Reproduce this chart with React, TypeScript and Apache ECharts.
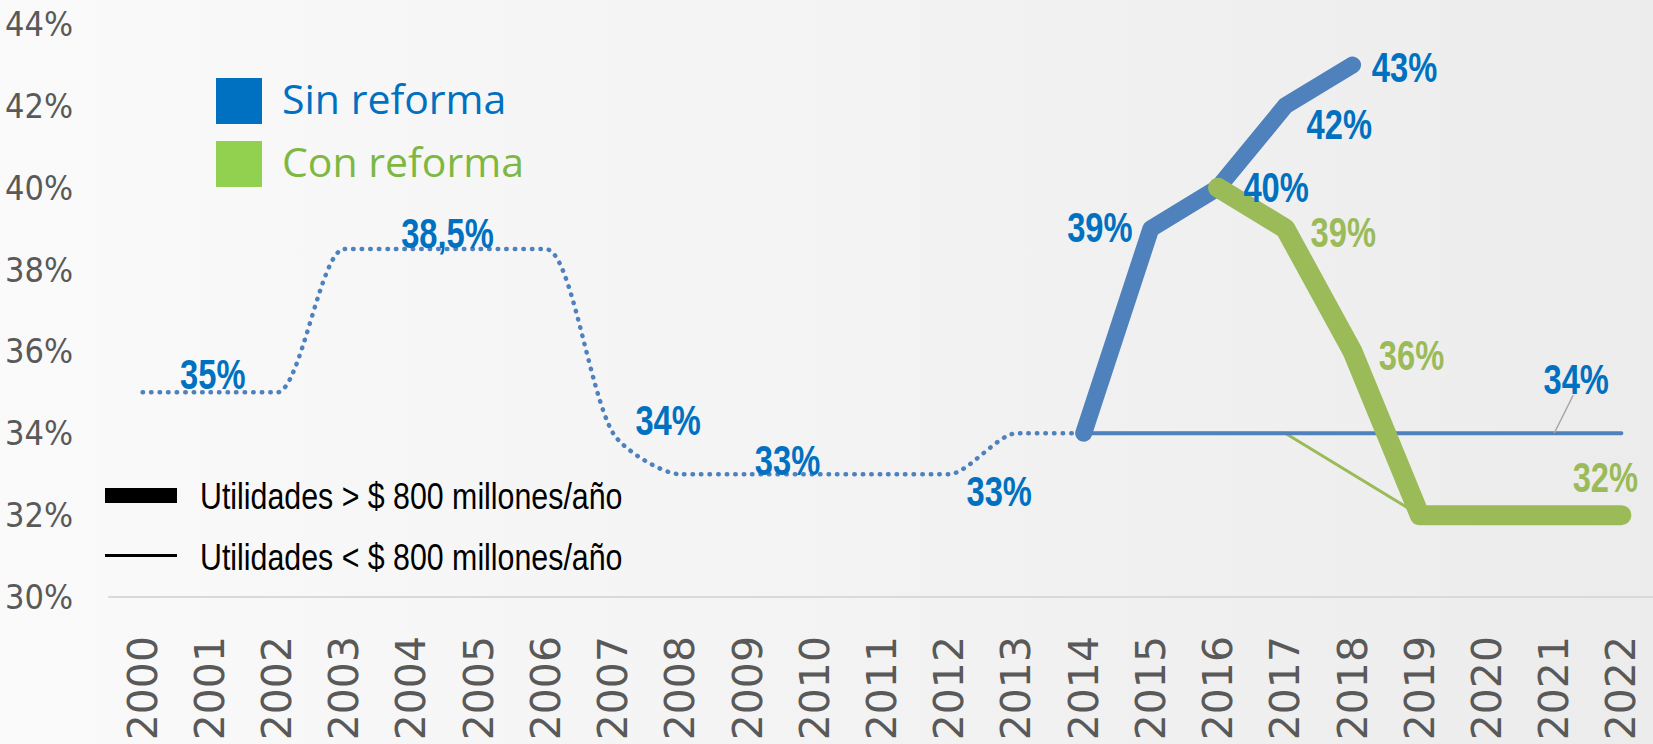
import React, { useEffect, useRef } from "react";
import * as echarts from "echarts";

const years = [
  "2000", "2001", "2002", "2003", "2004", "2005", "2006", "2007", "2008", "2009", "2010",
  "2011", "2012", "2013", "2014", "2015", "2016", "2017", "2018", "2019", "2020", "2021", "2022",
];

const yMin = 30;
const yMax = 44;
const yStep = 2;

// historical statutory rate (dotted)
const historico = [35, 35, 35, 38.5, 38.5, 38.5, 38.5, 34, 33, 33, 33, 33, 33, 34, 34,
  null, null, null, null, null, null, null, null];
// Utilidades > 800 millones
const sinReformaGrandes = [null, null, null, null, null, null, null, null, null, null, null,
  null, null, null, 34, 39, 40, 42, 43, null, null, null, null];
const conReformaGrandes = [null, null, null, null, null, null, null, null, null, null, null,
  null, null, null, null, null, 40, 39, 36, 32, 32, 32, 32];
// Utilidades < 800 millones
const sinReformaPequenas = [null, null, null, null, null, null, null, null, null, null, null,
  null, null, null, 34, 34, 34, 34, 34, 34, 34, 34, 34];
const conReformaPequenas = [null, null, null, null, null, null, null, null, null, null, null,
  null, null, null, 34, null, null, 34, null, 32, null, null, null];

// label placement (offset of label centre from its point), by year index
const historicoLabels: Record<number, number[]> = { 1: [3, -19], 4: [36, -16], 7: [55, -13], 9: [40, -14], 12: [50, 17] };
const sinGrandesLabels: Record<number, number[]> = { 15: [-51, -2], 16: [58, -1], 17: [54, 18], 18: [52, 2] };
const conGrandesLabels: Record<number, number[]> = { 17: [58, 3], 18: [59, 3], 22: [-16, -38] };
const sinPequenasLabels: Record<number, number[]> = { 21: [22, -54] };

const BLUE_LINE = "#4F81BD";
const BLUE_TEXT = "#0070C0";
const GREEN_LINE = "#9BBB59";
const GREEN_TEXT = "#9BBB59";

const fmt = (v: number) => String(v).replace(".", ",") + "%";

type LabelSpec = { idx: number; value: number; dx: number; dy: number; color: string; leader: boolean };

function collect(values: (number | null)[], labels: Record<number, number[]>, color: string, leader = false): LabelSpec[] {
  const out: LabelSpec[] = [];
  Object.keys(labels).forEach((k) => {
    const i = Number(k);
    const v = values[i];
    if (v === null || v === undefined) return;
    out.push({ idx: i, value: v, dx: labels[i][0], dy: labels[i][1], color, leader });
  });
  return out;
}

const labelSpecs: LabelSpec[] = [
  ...collect(historico, historicoLabels, BLUE_TEXT),
  ...collect(sinReformaPequenas, sinPequenasLabels, BLUE_TEXT, true),
  ...collect(sinReformaGrandes, sinGrandesLabels, BLUE_TEXT),
  ...collect(conReformaGrandes, conGrandesLabels, GREEN_TEXT),
];

export default function App() {
  const ref = useRef<HTMLDivElement>(null);
  useEffect(() => {
    const chart = echarts.init(ref.current!, null, { renderer: "svg" });
    const baseSeries = {
      type: "line",
      symbol: "none",
      showSymbol: false,
      emphasis: { disabled: true },
      silent: true,
      z: 2,
    };
    chart.setOption({
      animation: false,
      backgroundColor: {
        type: "linear", x: 0, y: 0, x2: 1, y2: 0,
        colorStops: [
          { offset: 0, color: "#fafafa" },
          { offset: 0.5, color: "#f3f3f3" },
          { offset: 1, color: "#ececec" },
        ],
      },
      grid: { left: 109, top: 24, width: 1546, height: 573, outerBoundsMode: "none", containLabel: false },
      xAxis: {
        type: "category",
        data: years,
        boundaryGap: true,
        axisLine: { show: true, lineStyle: { color: "#d9d9d9", width: 2 } },
        axisTick: { show: false },
        axisLabel: {
          rotate: 90,
          margin: 39,
          fontSize: 41,
          fontFamily: "'DejaVu Sans', sans-serif",
          color: "#595959",
          interval: 0,
        },
      },
      yAxis: {
        type: "value",
        min: yMin,
        max: yMax,
        interval: yStep,
        axisLine: { show: false },
        axisTick: { show: false },
        splitLine: { show: false },
        axisLabel: {
          formatter: "{value}%",
          margin: 36,
          fontSize: 34,
          fontFamily: "'DejaVu Sans Condensed', sans-serif",
          color: "#595959",
        },
      },
      series: [
        {
          ...baseSeries,
          name: "Histórico",
          data: historico,
          smooth: 0.25,
          lineStyle: { color: BLUE_LINE, width: 4.5, type: [0.5, 8], cap: "round" },
        },
        {
          ...baseSeries,
          name: "Con reforma < 800",
          data: conReformaPequenas,
          connectNulls: true,
          lineStyle: { color: GREEN_LINE, width: 3 },
        },
        {
          ...baseSeries,
          name: "Sin reforma < 800",
          data: sinReformaPequenas,
          lineStyle: { color: BLUE_LINE, width: 4, cap: "round" },
          z: 3,
        },
        {
          ...baseSeries,
          name: "Sin reforma > 800",
          data: sinReformaGrandes,
          lineStyle: { color: BLUE_LINE, width: 17, cap: "round", join: "round" },
          z: 4,
        },
        {
          ...baseSeries,
          name: "Con reforma > 800",
          data: conReformaGrandes,
          lineStyle: { color: GREEN_LINE, width: 20, cap: "round", join: "round" },
          z: 5,
        },
        {
          type: "custom",
          name: "Etiquetas",
          silent: true,
          z: 10,
          data: labelSpecs.map((s) => [s.idx, s.value]),
          renderItem: (params: any, api: any) => {
            const s = labelSpecs[params.dataIndex];
            const p = api.coord([api.value(0), api.value(1)]);
            const children: any[] = [];
            if (s.leader) {
              children.push({
                type: "line",
                shape: { x1: p[0], y1: p[1], x2: p[0] + 19, y2: p[1] + s.dy + 16 },
                style: { stroke: "#a6a6a6", lineWidth: 1.5 },
              });
            }
            children.push({
              type: "text",
              x: p[0] + s.dx,
              y: p[1] + s.dy,
              scaleX: 0.76,
              style: {
                text: fmt(s.value),
                fill: s.color,
                font: "bold 43px 'Liberation Sans', Arial, sans-serif",
                align: "center",
                verticalAlign: "middle",
              },
            });
            return { type: "group", children };
          },
        },
      ],
      graphic: [
        { type: "rect", left: 216, top: 78, shape: { width: 46, height: 46 }, style: { fill: "#0070C0" } },
        { type: "rect", left: 216, top: 141, shape: { width: 46, height: 46 }, style: { fill: "#92D050" } },
        {
          type: "text", left: 282, top: 77,
          style: { text: "Sin reforma", fill: "#0070C0", fontSize: 41, fontFamily: "'Open Sans', sans-serif" },
        },
        {
          type: "text", left: 282, top: 140,
          style: { text: "Con reforma", fill: "#7DB843", fontSize: 41, fontFamily: "'Open Sans', sans-serif" },
        },
        { type: "rect", left: 105, top: 488, shape: { width: 72, height: 15 }, style: { fill: "#000" } },
        { type: "rect", left: 105, top: 554, shape: { width: 72, height: 3 }, style: { fill: "#000" } },
        {
          type: "text", x: 200, y: 496, scaleX: 0.82,
          style: {
            text: "Utilidades > $ 800 millones/año", fill: "#000",
            font: "37px 'Liberation Sans', Arial, sans-serif", verticalAlign: "middle",
          },
        },
        {
          type: "text", x: 200, y: 557, scaleX: 0.82,
          style: {
            text: "Utilidades < $ 800 millones/año", fill: "#000",
            font: "37px 'Liberation Sans', Arial, sans-serif", verticalAlign: "middle",
          },
        },
      ],
    });
    return () => chart.dispose();
  }, []);
  return <div ref={ref} style={{ position: "fixed", left: 0, top: 0, width: 1653, height: 744 }} />;
}
